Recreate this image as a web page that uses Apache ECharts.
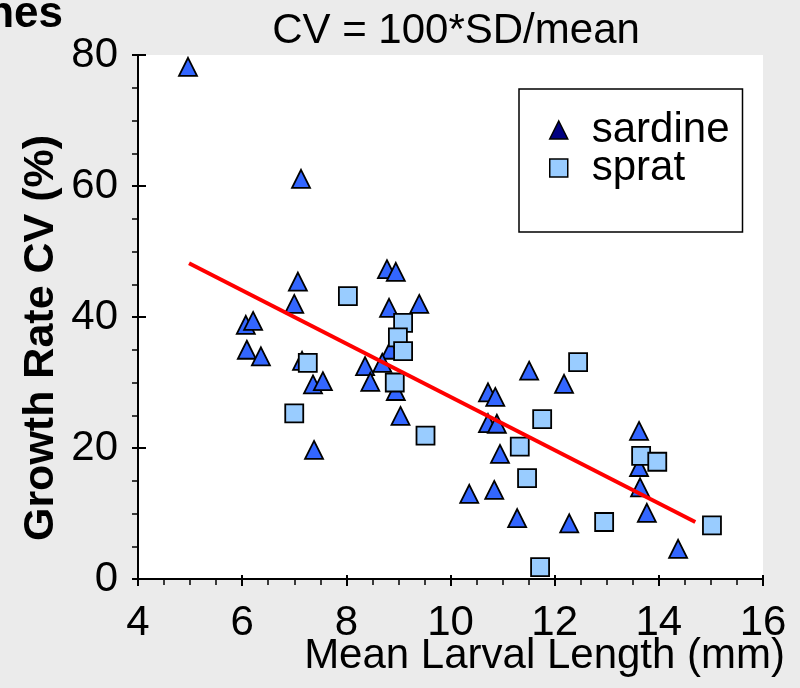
<!DOCTYPE html>
<html><head><meta charset="utf-8">
<script src="https://cdn.jsdelivr.net/npm/echarts@6/dist/echarts.min.js"></script>
<style>html,body{margin:0;padding:0;background:#ebebeb}#c{width:800px;height:688px}</style>
</head><body><div id="c"></div>
<script>
// ---- data ----
const sardineX = [4.96, 7.13, 7.07, 7.00, 6.07, 6.21, 6.09, 6.36, 7.15, 7.36, 7.55, 7.38, 8.78, 8.95, 8.82, 9.40, 8.85, 8.36, 8.69, 8.46, 8.95, 9.04, 10.72, 10.86, 10.72, 10.89, 11.51, 12.18, 10.95, 10.36, 10.84, 11.28, 12.28, 13.62, 13.62, 13.64, 13.77, 14.37];
const sardineY = [78.2, 61.1, 45.4, 42.0, 38.8, 39.4, 35.0, 34.0, 33.3, 29.7, 30.2, 19.7, 47.3, 46.9, 41.4, 42.0, 35.0, 32.5, 33.0, 30.1, 28.7, 24.9, 28.5, 27.8, 23.8, 23.7, 31.8, 29.8, 19.1, 13.0, 13.6, 9.3, 8.5, 22.6, 17.1, 14.0, 10.1, 4.6];
const spratX = [7.26, 7.00, 8.03, 9.09, 8.99, 9.09, 8.93, 9.52, 12.45, 11.76, 11.33, 11.47, 12.95, 11.72, 13.66, 13.97, 15.02];
const spratY = [33.0, 25.3, 43.2, 39.1, 36.9, 34.8, 30.0, 21.9, 33.1, 24.4, 20.2, 15.4, 8.7, 1.8, 18.8, 17.9, 8.2];
const fitX = [4.98, 14.70];
const fitY = [48.2, 8.7];
const xTickLabels = [4, 6, 8, 10, 12, 14, 16];
const yTickLabels = [0, 20, 40, 60, 80];
const seriesNames = ['sardine', 'sprat'];

const FONT = "'Liberation Sans', Arial, sans-serif";
const pairs = (xs, ys) => xs.map((x, i) => [x, ys[i]]);
const xMin = xTickLabels[0], xMax = xTickLabels[xTickLabels.length - 1], xStep = xTickLabels[1] - xTickLabels[0];
const yMin = yTickLabels[0], yMax = yTickLabels[yTickLabels.length - 1], yStep = yTickLabels[1] - yTickLabels[0];

const chart = echarts.init(document.getElementById('c'));
const tickLine = {color: '#000', width: 2};
chart.setOption({
  backgroundColor: '#ebebeb',
  animation: false,
  grid: {left: 138, right: 37, top: 55, bottom: 109, show: true, backgroundColor: '#fff', borderWidth: 0},
  xAxis: [{
    type: 'value', min: xMin, max: xMax, interval: xStep, position: 'bottom',
    axisLine: {show: true, onZero: false, lineStyle: {color: '#000', width: 2}},
    axisTick: {show: true, inside: false, length: 7, lineStyle: tickLine},
    minorTick: {show: true, splitNumber: 4, length: 6, lineStyle: {color: '#000', width: 1.5}},
    axisLabel: {margin: 23, fontSize: 42, color: '#000', fontFamily: FONT},
    splitLine: {show: false}, minorSplitLine: {show: false}
  }, {
    type: 'value', min: xMin, max: xMax, interval: xStep, position: 'bottom',
    axisLine: {show: false, onZero: false},
    axisTick: {show: true, inside: true, length: 4, lineStyle: tickLine},
    axisLabel: {show: false}, splitLine: {show: false}
  }],
  yAxis: [{
    type: 'value', min: yMin, max: yMax, interval: yStep, position: 'left',
    axisLine: {show: true, onZero: false, lineStyle: {color: '#000', width: 2}},
    axisTick: {show: true, inside: false, length: 6, lineStyle: tickLine},
    minorTick: {show: true, splitNumber: 4, length: 6, lineStyle: {color: '#000', width: 1.5}},
    axisLabel: {margin: 20, fontSize: 42, color: '#000', fontFamily: FONT},
    splitLine: {show: false}, minorSplitLine: {show: false}
  }, {
    type: 'value', min: yMin, max: yMax, interval: yStep, position: 'left',
    axisLine: {show: false, onZero: false},
    axisTick: {show: true, inside: true, length: 8, lineStyle: tickLine},
    axisLabel: {show: false}, splitLine: {show: false}
  }],
  legend: {
    orient: 'vertical', left: 519, top: 89,
    backgroundColor: '#fff', borderColor: '#000', borderWidth: 1.5, borderRadius: 0,
    padding: [20, 13, 43, 30], itemGap: -4, itemWidth: 18, itemHeight: 18,
    textStyle: {fontSize: 42, color: '#000', fontFamily: FONT, padding: [0, 0, 0, 19]},
    data: [
      {name: seriesNames[0], icon: 'triangle', itemStyle: {color: '#000080', borderColor: '#000', borderWidth: 1.5}},
      {name: seriesNames[1], icon: 'rect', itemStyle: {color: '#99ccff', borderColor: '#000', borderWidth: 1.5}}
    ]
  },
  graphic: [
    {type: 'text', x: 456, y: 31, style: {text: 'CV = 100*SD/mean', fontSize: 42, fontFamily: FONT, fill: '#000', align: 'center', verticalAlign: 'middle'}},
    {type: 'text', x: 785, y: 656, style: {text: 'Mean Larval Length (mm)', fontSize: 42, fontFamily: FONT, fill: '#000', align: 'right', verticalAlign: 'middle'}},
    {type: 'text', x: 41, y: 338, rotation: Math.PI / 2, style: {text: 'Growth Rate CV (%)', fontSize: 43, fontWeight: 'bold', fontFamily: FONT, fill: '#000', align: 'center', verticalAlign: 'middle'}},
    {type: 'text', x: 63, y: 15, style: {text: 'nes', fontSize: 44, fontWeight: 'bold', fontFamily: FONT, fill: '#000', align: 'right', verticalAlign: 'middle'}}
  ],
  series: [
    {name: seriesNames[0], type: 'scatter', xAxisIndex: 0, yAxisIndex: 0, symbol: 'triangle', symbolSize: 18,
     itemStyle: {color: '#3366ff', borderColor: '#000', borderWidth: 1.8, opacity: 1},
     data: pairs(sardineX, sardineY)},
    {name: seriesNames[1], type: 'scatter', xAxisIndex: 0, yAxisIndex: 0, symbol: 'rect', symbolSize: 18,
     itemStyle: {color: '#99ccff', borderColor: '#000', borderWidth: 1.8, opacity: 1},
     data: pairs(spratX, spratY)},
    {name: 'fit', type: 'line', xAxisIndex: 0, yAxisIndex: 0, symbol: 'none', silent: true,
     lineStyle: {color: '#ff0000', width: 4}, data: pairs(fitX, fitY)}
  ]
});
</script>
</body></html>
